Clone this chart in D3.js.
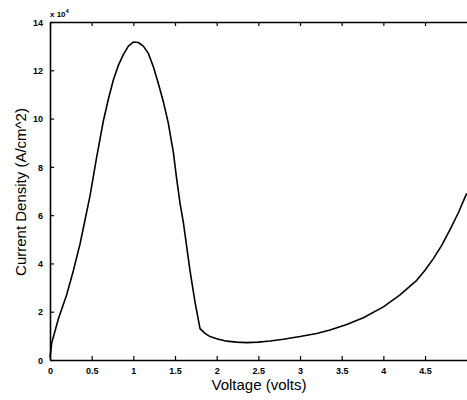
<!DOCTYPE html>
<html><head><meta charset="utf-8">
<script src="https://cdn.jsdelivr.net/npm/d3@7"></script>
<style>body{margin:0;background:#fff}svg{display:block}</style>
</head><body>
<svg id="chart" width="467" height="400"></svg>
<script>
const voltage = [0, 0.02, 0.1, 0.2, 0.28, 0.36, 0.42, 0.48, 0.56, 0.64, 0.70, 0.76, 0.82, 0.88, 0.94, 1.0, 1.06, 1.12, 1.18, 1.24, 1.3, 1.36, 1.42, 1.48, 1.52, 1.56, 1.6, 1.68, 1.74, 1.8, 1.86, 1.92, 2.0, 2.12, 2.24, 2.36, 2.5, 2.64, 2.8, 3.0, 3.2, 3.36, 3.56, 3.76, 4.0, 4.1, 4.2, 4.3, 4.4, 4.5, 4.6, 4.7, 4.8, 4.9, 5.0];
const density = [0.1, 0.7, 1.7, 2.7, 3.7, 4.8, 5.8, 6.8, 8.4, 9.9, 10.8, 11.6, 12.2, 12.65, 13.0, 13.17, 13.15, 13.0, 12.7, 12.15, 11.45, 10.7, 9.8, 8.6, 7.5, 6.5, 5.7, 3.7, 2.4, 1.3, 1.1, 0.97, 0.88, 0.78, 0.74, 0.72, 0.74, 0.79, 0.86, 0.97, 1.1, 1.24, 1.47, 1.75, 2.2, 2.45, 2.7, 3.0, 3.3, 3.72, 4.2, 4.75, 5.4, 6.1, 6.9];
const xTicks = [0, 0.5, 1, 1.5, 2, 2.5, 3, 3.5, 4, 4.5];
const xTickLabels = ["0", "0.5", "1", "1.5", "2", "2.5", "3", "3.5", "4", "4.5"];
const yTicks = [0, 2, 4, 6, 8, 10, 12, 14];
const yTickLabels = ["0", "2", "4", "6", "8", "10", "12", "14"];
const xLabel = "Voltage (volts)";
const yLabel = "Current Density (A/cm^2)";

const svg = d3.select("#chart");
const L = 50, R = 466.7, T = 22, B = 360;
const x = d3.scaleLinear().domain([0, 5]).range([L, R]);
const y = d3.scaleLinear().domain([0, 14]).range([B, T]);

const tickFont = "bold 9px 'Liberation Sans', Arial, sans-serif";

const gx = svg.append("g").attr("transform", `translate(0,${B})`)
  .call(d3.axisBottom(x).tickValues(xTicks).tickFormat((d,i)=>xTickLabels[i]).tickSizeInner(-4).tickSizeOuter(0).tickPadding(8));
const gt = svg.append("g").attr("transform", `translate(0,${T})`)
  .call(d3.axisTop(x).tickValues(xTicks).tickFormat("").tickSizeInner(-4).tickSizeOuter(0));
const gy = svg.append("g").attr("transform", `translate(${L},0)`)
  .call(d3.axisLeft(y).tickValues(yTicks).tickFormat((d,i)=>yTickLabels[i]).tickSizeInner(-4).tickSizeOuter(0).tickPadding(7));

[gx, gt, gy].forEach(g => {
  g.select(".domain").attr("stroke", "#000").attr("stroke-width", 1.6);
  g.selectAll(".tick line").attr("stroke", "#000").attr("stroke-width", 1.2);
  g.selectAll("text").style("font", tickFont).attr("fill", "#000");
});
gy.selectAll("text").attr("dy", "0.35em");

const exp = svg.append("text").attr("x", 50).attr("y", 17)
  .style("font", "bold 8px 'Liberation Sans', Arial, sans-serif").attr("fill", "#000");
exp.append("tspan").text("x 10");
exp.append("tspan").attr("dy", -4).style("font-size", "6px").text("4");

const line = d3.line().x((d,i)=>x(voltage[i])).y(d=>y(d)).curve(d3.curveLinear);
svg.append("path").datum(density).attr("d", line)
  .attr("fill", "none").attr("stroke", "#000").attr("stroke-width", 1.6).attr("stroke-linejoin", "round");

svg.append("text").attr("x", 259).attr("y", 390).attr("text-anchor", "middle")
  .style("font", "15px 'Liberation Sans', Arial, sans-serif").attr("fill", "#000").text(xLabel);
svg.append("text").attr("transform", "translate(26,192) rotate(-90)").attr("text-anchor", "middle")
  .style("font", "15px 'Liberation Sans', Arial, sans-serif").attr("fill", "#000").text(yLabel);
</script>
</body></html>
